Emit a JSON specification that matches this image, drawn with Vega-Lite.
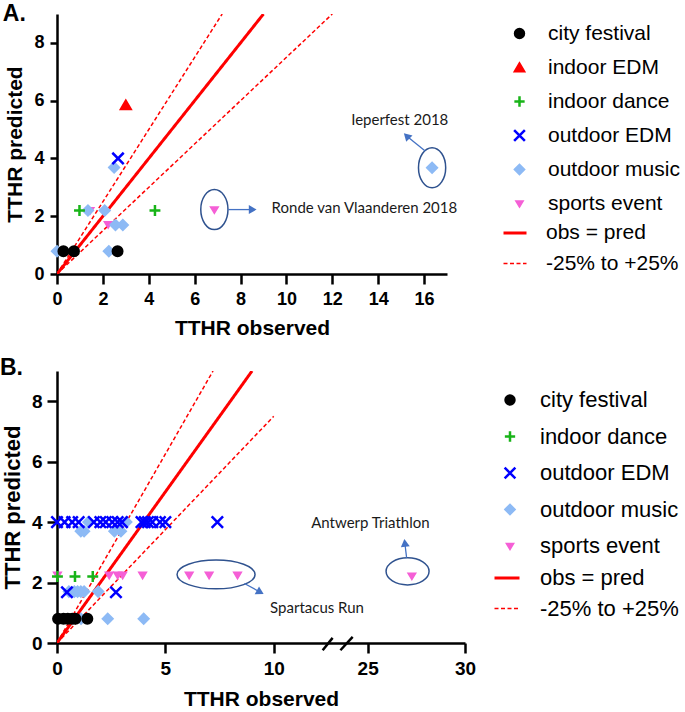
{
  "$schema": "https://vega.github.io/schema/vega-lite/v6.json",
  "padding": {"left": 0, "top": 2, "right": 0, "bottom": 0},
  "spacing": 18,
  "config": {
    "view": {"stroke": null},
    "font": "Liberation Sans",
    "axis": {"grid": false, "domainColor": "black", "domainWidth": 2.5, "tickColor": "black", "tickWidth": 2.5, "labelFont": "Liberation Sans", "labelFontWeight": "bold", "labelColor": "black", "titleFont": "Liberation Sans", "titleFontWeight": "bold", "titleColor": "black", "labelFlush": false, "labelOverlap": false},
    "legend": {"labelFont": "Liberation Sans", "labelColor": "black", "padding": 0, "symbolStrokeWidth": 2.5, "labelLimit": 400}
  },
  "datasets": {
    "ptsA": [
      {"type": "sports event", "obs": 1.44, "pred": 2.2},
      {"type": "sports event", "obs": 2.23, "pred": 1.72},
      {"type": "sports event", "obs": 6.86, "pred": 2.23},
      {"type": "outdoor music", "obs": 2.49, "pred": 3.69},
      {"type": "outdoor music", "obs": 1.35, "pred": 2.2},
      {"type": "outdoor music", "obs": 2.08, "pred": 2.2},
      {"type": "outdoor music", "obs": 2.55, "pred": 1.7},
      {"type": "outdoor music", "obs": 2.87, "pred": 1.7},
      {"type": "outdoor music", "obs": 0.0, "pred": 0.79},
      {"type": "outdoor music", "obs": 2.26, "pred": 0.79},
      {"type": "outdoor music", "obs": 16.35, "pred": 3.68},
      {"type": "indoor dance", "obs": 0.98, "pred": 2.2},
      {"type": "indoor dance", "obs": 4.27, "pred": 2.2},
      {"type": "city festival", "obs": 0.28, "pred": 0.79},
      {"type": "city festival", "obs": 0.74, "pred": 0.79},
      {"type": "city festival", "obs": 2.64, "pred": 0.79},
      {"type": "outdoor EDM", "obs": 2.66, "pred": 4.0},
      {"type": "indoor EDM", "obs": 3.0, "pred": 5.85}
    ],
    "ptsB": [
      {"type": "sports event", "obs": 0.02, "pred": 2.25},
      {"type": "sports event", "obs": 2.41, "pred": 2.25},
      {"type": "sports event", "obs": 2.8, "pred": 2.25},
      {"type": "sports event", "obs": 3.03, "pred": 2.25},
      {"type": "sports event", "obs": 3.95, "pred": 2.25},
      {"type": "sports event", "obs": 6.1, "pred": 2.25},
      {"type": "sports event", "obs": 7.02, "pred": 2.25},
      {"type": "sports event", "obs": 8.33, "pred": 2.25},
      {"type": "sports event", "obs": 27.27, "pred": 2.22},
      {"type": "outdoor music", "obs": 1.45, "pred": 4.0},
      {"type": "outdoor music", "obs": 3.2, "pred": 4.0},
      {"type": "outdoor music", "obs": 1.1, "pred": 3.7},
      {"type": "outdoor music", "obs": 1.25, "pred": 3.7},
      {"type": "outdoor music", "obs": 2.65, "pred": 3.7},
      {"type": "outdoor music", "obs": 2.95, "pred": 3.7},
      {"type": "outdoor music", "obs": 0.55, "pred": 1.7},
      {"type": "outdoor music", "obs": 0.8, "pred": 1.7},
      {"type": "outdoor music", "obs": 0.95, "pred": 1.7},
      {"type": "outdoor music", "obs": 1.1, "pred": 1.7},
      {"type": "outdoor music", "obs": 1.25, "pred": 1.7},
      {"type": "outdoor music", "obs": 1.9, "pred": 1.7},
      {"type": "outdoor music", "obs": 1.11, "pred": 0.8},
      {"type": "outdoor music", "obs": 2.34, "pred": 0.8},
      {"type": "outdoor music", "obs": 4.0, "pred": 0.8},
      {"type": "indoor dance", "obs": 0.02, "pred": 2.2},
      {"type": "indoor dance", "obs": 0.83, "pred": 2.2},
      {"type": "indoor dance", "obs": 1.65, "pred": 2.2},
      {"type": "city festival", "obs": 0.05, "pred": 0.8},
      {"type": "city festival", "obs": 0.3, "pred": 0.8},
      {"type": "city festival", "obs": 0.5, "pred": 0.8},
      {"type": "city festival", "obs": 0.7, "pred": 0.8},
      {"type": "city festival", "obs": 0.85, "pred": 0.8},
      {"type": "city festival", "obs": 1.4, "pred": 0.8},
      {"type": "outdoor EDM", "obs": 0.0, "pred": 4.0},
      {"type": "outdoor EDM", "obs": 0.35, "pred": 4.0},
      {"type": "outdoor EDM", "obs": 0.7, "pred": 4.0},
      {"type": "outdoor EDM", "obs": 1.0, "pred": 4.0},
      {"type": "outdoor EDM", "obs": 1.7, "pred": 4.0},
      {"type": "outdoor EDM", "obs": 2.0, "pred": 4.0},
      {"type": "outdoor EDM", "obs": 2.25, "pred": 4.0},
      {"type": "outdoor EDM", "obs": 2.55, "pred": 4.0},
      {"type": "outdoor EDM", "obs": 2.8, "pred": 4.0},
      {"type": "outdoor EDM", "obs": 3.0, "pred": 4.0},
      {"type": "outdoor EDM", "obs": 3.9, "pred": 4.0},
      {"type": "outdoor EDM", "obs": 4.05, "pred": 4.0},
      {"type": "outdoor EDM", "obs": 4.2, "pred": 4.0},
      {"type": "outdoor EDM", "obs": 4.4, "pred": 4.0},
      {"type": "outdoor EDM", "obs": 4.75, "pred": 4.0},
      {"type": "outdoor EDM", "obs": 5.0, "pred": 4.0},
      {"type": "outdoor EDM", "obs": 7.4, "pred": 4.0},
      {"type": "outdoor EDM", "obs": 0.46, "pred": 1.68},
      {"type": "outdoor EDM", "obs": 2.72, "pred": 1.68}
    ],
    "linesA": [
      {"kind": "obs = pred", "seg": "eq", "obs": 0, "pred": 0},
      {"kind": "obs = pred", "seg": "eq", "obs": 9, "pred": 9},
      {"kind": "-25% to +25%", "seg": "up", "obs": 0, "pred": 0},
      {"kind": "-25% to +25%", "seg": "up", "obs": 7.2, "pred": 9},
      {"kind": "-25% to +25%", "seg": "lo", "obs": 0, "pred": 0},
      {"kind": "-25% to +25%", "seg": "lo", "obs": 12, "pred": 9}
    ],
    "linesB": [
      {"kind": "obs = pred", "seg": "eq", "obs": 0, "pred": 0},
      {"kind": "obs = pred", "seg": "eq", "obs": 9, "pred": 9},
      {"kind": "-25% to +25%", "seg": "up", "obs": 0, "pred": 0},
      {"kind": "-25% to +25%", "seg": "up", "obs": 7.2, "pred": 9},
      {"kind": "-25% to +25%", "seg": "lo", "obs": 0, "pred": 0},
      {"kind": "-25% to +25%", "seg": "lo", "obs": 10, "pred": 7.5}
    ],
    "panelA": [{"label": "A.", "obs": -2.36, "pred": 8.76}],
    "panelB": [{"label": "B.", "obs": -2.63, "pred": 8.87}],
    "ellA": [{"obs": 6.86, "pred": 2.23}, {"obs": 16.35, "pred": 3.68}],
    "arrowsA": [
      {"obs": 7.47, "pred": 2.23, "obs2": 8.53, "pred2": 2.23},
      {"obs": 16.05, "pred": 4.26, "obs2": 15.24, "pred2": 4.78}
    ],
    "headA1": [{"obs": 8.53, "pred": 2.23}],
    "headA2": [{"obs": 15.24, "pred": 4.78}],
    "labelsA": [
      {"label": "Ronde van Vlaanderen 2018", "obs": 13.4, "pred": 2.29},
      {"label": "Ieperfest 2018", "obs": 14.94, "pred": 5.34}
    ],
    "ellB1": [{"obs": 7.34, "pred": 2.27}],
    "ellB2": [{"obs": 27.05, "pred": 2.37}],
    "arrowsB": [
      {"obs": 8.65, "pred": 1.97, "obs2": 9.38, "pred2": 1.68},
      {"obs": 27.0, "pred": 2.82, "obs2": 26.91, "pred2": 3.31}
    ],
    "headB1": [{"obs": 9.38, "pred": 1.68}],
    "headB2": [{"obs": 26.91, "pred": 3.31}],
    "labelsB": [
      {"label": "Spartacus Run", "obs": 12.0, "pred": 1.16},
      {"label": "Antwerp Triathlon", "obs": 25.14, "pred": 3.96}
    ],
    "breaks": [
      {"obs": 12.26, "pred": -0.24, "obs2": 12.72, "pred2": 0.17},
      {"obs": 16.3, "pred": -0.24, "obs2": 24.23, "pred2": 0.2}
    ]
  },
  "resolve": {
    "scale": {"fill": "independent", "stroke": "independent", "shape": "independent", "strokeDash": "independent", "strokeWidth": "independent"},
    "legend": {"fill": "independent", "stroke": "independent", "shape": "independent", "strokeDash": "independent", "strokeWidth": "independent"}
  },
  "vconcat": [
    {
      "width": 390,
      "height": 260,
      "encoding": {
        "x": {"field": "obs", "type": "quantitative", "scale": {"domain": [0, 17], "nice": false, "zero": false}, "axis": {"values": [0, 2, 4, 6, 8, 10, 12, 14, 16], "title": "TTHR observed", "labelFontSize": 18, "titleFontSize": 21, "tickSize": 10, "labelPadding": 6, "titlePadding": 9}},
        "y": {"field": "pred", "type": "quantitative", "scale": {"domain": [0, 9], "nice": false, "zero": false}, "axis": {"values": [0, 2, 4, 6, 8], "title": "TTHR predicted", "labelFontSize": 18, "titleFontSize": 21, "tickSize": 7, "labelPadding": 6, "titlePadding": 8}}
      },
      "layer": [
        {
          "data": {"name": "panelA"},
          "mark": {"type": "text", "font": "Liberation Sans", "fontWeight": "bold", "fontSize": 23, "color": "black", "align": "left", "baseline": "alphabetic"},
          "encoding": {"text": {"field": "label"}}
        },
        {
          "data": {"name": "linesA"},
          "mark": {"type": "line", "color": "#ff0000", "clip": true},
          "encoding": {
            "detail": {"field": "seg", "type": "nominal"},
            "strokeDash": {"field": "kind", "type": "nominal", "scale": {"domain": ["obs = pred", "-25% to +25%"], "range": [[1, 0], [4, 2.5]]}, "legend": {"title": null, "orient": "none", "legendX": 445, "legendY": 206, "rowPadding": 8, "symbolType": "stroke", "symbolSize": 529, "symbolStrokeColor": "#ff0000", "labelOffset": 18, "labelFontSize": 21}},
            "strokeWidth": {"field": "kind", "type": "nominal", "scale": {"domain": ["obs = pred", "-25% to +25%"], "range": [3, 1.5]}, "legend": {"title": null, "orient": "none", "legendX": 445, "legendY": 206, "rowPadding": 8, "symbolType": "stroke", "symbolSize": 529, "symbolStrokeColor": "#ff0000", "labelOffset": 18, "labelFontSize": 21}}
          }
        },
        {
          "data": {"name": "ellA"},
          "mark": {"type": "point", "filled": false, "stroke": "#2f528f", "strokeWidth": 1.5, "opacity": 1, "size": 1600, "shape": "M-0.68,0A0.68,1 0 1,0 0.68,0A0.68,1 0 1,0 -0.68,0Z"},
          "encoding": {}
        },
        {
          "data": {"name": "arrowsA"},
          "mark": {"type": "rule", "color": "#4472c4", "strokeWidth": 1.3},
          "encoding": {"x2": {"field": "obs2"}, "y2": {"field": "pred2"}}
        },
        {
          "data": {"name": "headA1"},
          "mark": {"type": "point", "filled": true, "color": "#4472c4", "opacity": 1, "shape": "triangle-right", "size": 80},
          "encoding": {}
        },
        {
          "data": {"name": "headA2"},
          "mark": {"type": "point", "filled": true, "color": "#4472c4", "opacity": 1, "shape": "triangle-up", "size": 80, "angle": -45},
          "encoding": {}
        },
        {
          "data": {"name": "labelsA"},
          "mark": {"type": "text", "font": "Lato", "fontSize": 15, "color": "#1a1a1a", "align": "center", "baseline": "middle"},
          "encoding": {"text": {"field": "label"}}
        },
        {
          "data": {"name": "ptsA"},
          "mark": {"type": "point", "strokeWidth": 2.5, "opacity": 1, "size": 90},
          "encoding": {
            "fill": {"field": "type", "type": "nominal", "scale": {"domain": ["city festival", "indoor EDM", "indoor dance", "outdoor EDM", "outdoor music", "sports event"], "range": ["#000000", "#ff0000", "#18b418", "#0000ff", "#8dbaf5", "#f55fd6"]}, "legend": {"title": null, "orient": "none", "legendX": 452, "legendY": 9, "rowPadding": 12, "symbolSize": 80, "labelOffset": 18, "labelFontSize": 21}},
            "stroke": {"field": "type", "type": "nominal", "scale": {"domain": ["city festival", "indoor EDM", "indoor dance", "outdoor EDM", "outdoor music", "sports event"], "range": ["#000000", "#ff0000", "#18b418", "#0000ff", "#8dbaf5", "#f55fd6"]}, "legend": {"title": null, "orient": "none", "legendX": 452, "legendY": 9, "rowPadding": 12, "symbolSize": 80, "labelOffset": 18, "labelFontSize": 21}},
            "shape": {"field": "type", "type": "nominal", "scale": {"domain": ["city festival", "indoor EDM", "indoor dance", "outdoor EDM", "outdoor music", "sports event"], "range": ["circle", "triangle-up", "M-1.15,0L1.15,0M0,-1.15L0,1.15", "M-1.2,-1.2L1.2,1.2M-1.2,1.2L1.2,-1.2", "diamond", "M-0.62,-0.45L0.62,-0.45L0,0.58Z"]}, "legend": {"title": null, "orient": "none", "legendX": 452, "legendY": 9, "rowPadding": 12, "symbolSize": 80, "labelOffset": 18, "labelFontSize": 21}}
          }
        }
      ]
    },
    {
      "width": 408,
      "height": 272,
      "encoding": {
        "x": {"field": "obs", "type": "quantitative", "scale": {"domain": [0, 13, 23.8, 30], "range": [0, 281.7, 287.3, 408], "nice": false, "zero": false}, "axis": {"values": [0, 5, 10, 25, 30], "title": "TTHR observed", "labelFontSize": 19, "titleFontSize": 21, "tickSize": 10, "labelPadding": 6, "titlePadding": 10}},
        "y": {"field": "pred", "type": "quantitative", "scale": {"domain": [0, 9], "nice": false, "zero": false}, "axis": {"values": [0, 2, 4, 6, 8], "title": "TTHR predicted", "labelFontSize": 19, "titleFontSize": 22, "tickSize": 10, "labelPadding": 5, "titlePadding": 7}}
      },
      "layer": [
        {
          "data": {"name": "panelB"},
          "mark": {"type": "text", "font": "Liberation Sans", "fontWeight": "bold", "fontSize": 23, "color": "black", "align": "left", "baseline": "alphabetic"},
          "encoding": {"text": {"field": "label"}}
        },
        {
          "data": {"name": "linesB"},
          "mark": {"type": "line", "color": "#ff0000", "clip": true},
          "encoding": {
            "detail": {"field": "seg", "type": "nominal"},
            "strokeDash": {"field": "kind", "type": "nominal", "scale": {"domain": ["obs = pred", "-25% to +25%"], "range": [[1, 0], [4, 2.5]]}, "legend": {"title": null, "orient": "none", "legendX": 436, "legendY": 193, "rowPadding": 6, "symbolType": "stroke", "symbolSize": 625, "symbolStrokeColor": "#ff0000", "labelOffset": 19, "labelFontSize": 22}},
            "strokeWidth": {"field": "kind", "type": "nominal", "scale": {"domain": ["obs = pred", "-25% to +25%"], "range": [3, 1.5]}, "legend": {"title": null, "orient": "none", "legendX": 436, "legendY": 193, "rowPadding": 6, "symbolType": "stroke", "symbolSize": 625, "symbolStrokeColor": "#ff0000", "labelOffset": 19, "labelFontSize": 22}}
          }
        },
        {
          "data": {"name": "breaks"},
          "mark": {"type": "rule", "color": "black", "strokeWidth": 2.5},
          "encoding": {"x2": {"field": "obs2"}, "y2": {"field": "pred2"}}
        },
        {
          "data": {"name": "ellB1"},
          "mark": {"type": "point", "filled": false, "stroke": "#2f528f", "strokeWidth": 1.5, "opacity": 1, "size": 6084, "shape": "M-1,0A1,0.37 0 1,0 1,0A1,0.37 0 1,0 -1,0Z"},
          "encoding": {}
        },
        {
          "data": {"name": "ellB2"},
          "mark": {"type": "point", "filled": false, "stroke": "#2f528f", "strokeWidth": 1.5, "opacity": 1, "size": 1849, "shape": "M-1,0A1,0.63 0 1,0 1,0A1,0.63 0 1,0 -1,0Z"},
          "encoding": {}
        },
        {
          "data": {"name": "arrowsB"},
          "mark": {"type": "rule", "color": "#4472c4", "strokeWidth": 1.3},
          "encoding": {"x2": {"field": "obs2"}, "y2": {"field": "pred2"}}
        },
        {
          "data": {"name": "headB1"},
          "mark": {"type": "point", "filled": true, "color": "#4472c4", "opacity": 1, "shape": "triangle-right", "size": 80, "angle": 29},
          "encoding": {}
        },
        {
          "data": {"name": "headB2"},
          "mark": {"type": "point", "filled": true, "color": "#4472c4", "opacity": 1, "shape": "triangle-up", "size": 80, "angle": -7},
          "encoding": {}
        },
        {
          "data": {"name": "labelsB"},
          "mark": {"type": "text", "font": "Lato", "fontSize": 15, "color": "#1a1a1a", "align": "center", "baseline": "middle"},
          "encoding": {"text": {"field": "label"}}
        },
        {
          "data": {"name": "ptsB"},
          "mark": {"type": "point", "strokeWidth": 2.5, "opacity": 1, "size": 90},
          "encoding": {
            "fill": {"field": "type", "type": "nominal", "scale": {"domain": ["city festival", "indoor dance", "outdoor EDM", "outdoor music", "sports event"], "range": ["#000000", "#18b418", "#0000ff", "#8dbaf5", "#f55fd6"]}, "legend": {"title": null, "orient": "none", "legendX": 442, "legendY": 18, "rowPadding": 14.5, "symbolSize": 80, "labelOffset": 19, "labelFontSize": 22}},
            "stroke": {"field": "type", "type": "nominal", "scale": {"domain": ["city festival", "indoor dance", "outdoor EDM", "outdoor music", "sports event"], "range": ["#000000", "#18b418", "#0000ff", "#8dbaf5", "#f55fd6"]}, "legend": {"title": null, "orient": "none", "legendX": 442, "legendY": 18, "rowPadding": 14.5, "symbolSize": 80, "labelOffset": 19, "labelFontSize": 22}},
            "shape": {"field": "type", "type": "nominal", "scale": {"domain": ["city festival", "indoor dance", "outdoor EDM", "outdoor music", "sports event"], "range": ["circle", "M-1.15,0L1.15,0M0,-1.15L0,1.15", "M-1.2,-1.2L1.2,1.2M-1.2,1.2L1.2,-1.2", "diamond", "M-0.62,-0.45L0.62,-0.45L0,0.58Z"]}, "legend": {"title": null, "orient": "none", "legendX": 442, "legendY": 18, "rowPadding": 14.5, "symbolSize": 80, "labelOffset": 19, "labelFontSize": 22}}
          }
        }
      ]
    }
  ]
}
